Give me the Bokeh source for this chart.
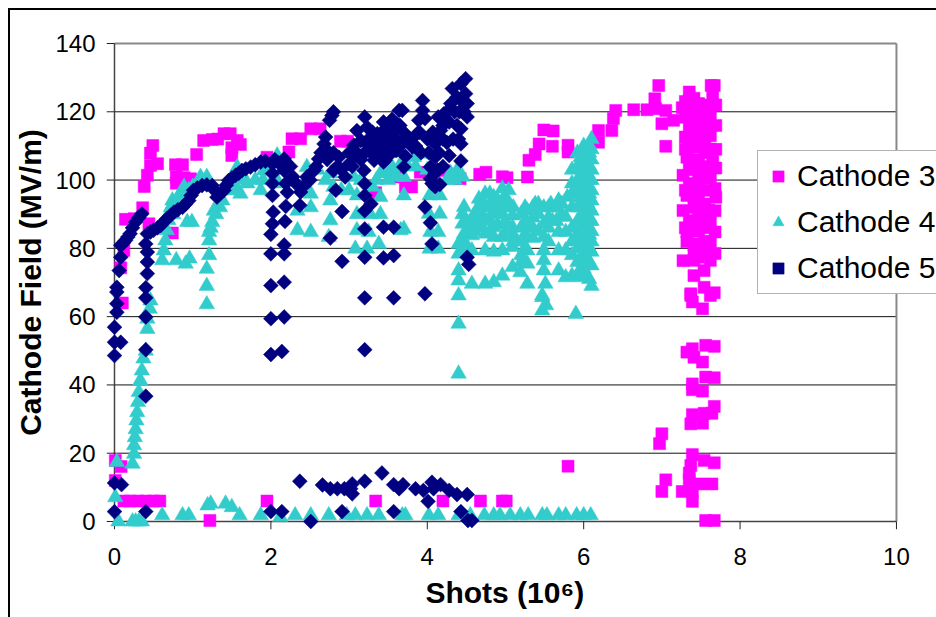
from bokeh.plotting import figure
from bokeh.models import Legend, LegendItem, FixedTicker, ColumnDataSource
from bokeh.embed import file_html
from bokeh.resources import INLINE

series_names = ["Cathode 3", "Cathode 4", "Cathode 5"]
x_ticks = [0, 2, 4, 6, 8, 10]
y_ticks = [0, 20, 40, 60, 80, 100, 120, 140]

cathode3 = [
 (0.49,110.1),(0.46,107.9),(0.46,104.3),(0.55,104.8),(0.42,101.4),(0.38,98.1),(0.36,91.9),(0.14,88.5),(0.25,88.7),(0.44,87.2),(0.74,84.5),(0.12,79.4),(0.08,74.3),
 (1.05,107.5),(0.78,104.5),(0.87,104.5),(0.79,100.9),(0.79,99.1),(0.89,100.7),(0.97,100.4),(1.05,100),(1.14,111.6),(1.25,111.9),(1.32,112),(1.40,113.6),(1.48,113.6),(1.57,111.6),(1.61,110.4),(1.50,107.2),(1.50,109.5),
 (1.95,106.7),(2.23,108.2),(2.27,112.1),(2.38,112.1),(2.51,115),(2.63,115),(2.89,111.4),(2.98,111.4),(3.34,96.3),(3.61,100.9),
 (3.72,98),(3.8,98),(3.91,102.3),(4.21,102.8),(4.42,100.4),(4.67,101.7),(4.75,102.3),(4.96,101),(5.02,100.7),(5.28,100.9),(5.30,105.8),(5.38,107.5),(5.43,110.6),(5.49,114.7),(5.61,114.4),(5.60,109.9),(5.80,110.2),(5.80,108.2),
 (6.19,114.5),(6.19,111.1),(6.36,114.5),(6.38,118),(6.41,120.4),(6.64,120.6),(6.81,120.6),(6.92,120.9),(6.91,123.8),(6.96,127.7),(7.0,116.5),(7.05,120.4),(7.15,117.5),(7.05,109.9),(7.26,121.2),
 (7.35,125.8),(7.35,123.3),(7.35,120.9),(7.3,118.4),(7.35,115.5),(7.3,112.6),(7.35,109.7),(7.32,106.7),(7.35,104.3),(7.27,101.4),(7.35,98.4),(7.32,95.5),(7.27,91.1),(7.35,88.1),(7.32,84.8),(7.32,81.9),(7.27,76.4),
 (7.47,122.4),(7.47,119.4),(7.47,116),(7.47,112.6),(7.47,109.7),(7.47,105.8),(7.47,101.9),(7.47,98.9),(7.47,96),(7.47,92.1),(7.47,89.2),(7.47,85.2),(7.47,81.3),(7.47,77.4),(7.54,73.5),
 (7.63,127.7),(7.67,127.7),(7.65,125),(7.69,122),(7.62,119),(7.69,116),(7.62,113),(7.69,109),(7.62,109),(7.65,105.5),(7.69,103.5),(7.62,100.5),(7.68,97.5),(7.69,95),(7.6,91.2),(7.68,91),(7.62,87.8),(7.68,84.8),(7.62,81.9),(7.68,78.5),(7.62,76.5),
 (7.41,124),(7.41,120),(7.41,117),(7.41,113),(7.41,110),(7.41,106),(7.41,103),(7.41,99),(7.41,95),(7.41,92),(7.41,88),(7.41,85),(7.41,81),(7.41,78),(7.41,72),
 (7.55,122),(7.55,119),(7.55,116),(7.55,112),(7.55,108),(7.55,104),(7.55,101),(7.55,97),(7.55,93),(7.55,90),(7.55,86),(7.55,82),(7.55,79),(7.3,123),(7.3,109),(7.3,97),(7.3,86),
 (7.41,76.5),(7.37,66.7),(7.54,68.6),(7.67,67),(7.39,64.3),(7.52,62.3),(7.37,66.2),(7.62,66.2),
 (7.32,49.6),(7.39,50.6),(7.41,48.1),(7.52,46.7),(7.56,51.6),(7.67,51.3),(7.56,42.3),(7.67,42.1),(7.39,40.3),(7.39,38.6),(7.52,38.2),(7.67,33.7),(7.64,31.7),(7.54,31.7),(7.39,31.3),(7.37,28.6),(7.52,28.8),
 (7.0,25.7),(6.97,22.8),(7.39,19.6),(7.37,16.4),(7.35,14.2),(7.35,12.2),(7.54,17.9),(7.67,17.2),(7.05,12.2),(7.0,8.8),(7.26,8.8),(7.39,8.8),(7.49,11),(7.64,11),(7.39,5.9),(7.56,0.3),(7.67,0.3),
 (5.80,16.2),(4.2,6),(4.68,6),(4.96,6),(5.01,6),
 (0.01,17.9),(0.085,16.1),(0.01,12),(0.12,6),(0.2,6),(0.3,6),(0.4,6),(0.5,6),(0.58,6),(1.22,0.3),(1.95,6),(3.34,6),(0.1,64),
]

cathode4 = [
 (0.23,16.9),(0.25,19.8),(0.25,22.3),(0.26,24.7),(0.27,27),(0.28,29.6),(0.29,32),(0.30,35),(0.31,37.9),(0.33,41.3),(0.35,44.2),(0.37,47.7),(0.40,50),(0.42,56.4),(0.42,59.4),(0.45,62.3),(0.46,64.7),
 (0.61,76.5),(0.63,79.4),(0.65,82.3),(0.67,85.3),(0.69,88.2),(0.72,92),(0.74,94),(0.80,94.5),(0.84,96),(0.89,98),(0.79,76.5),(0.91,75.5),(0.96,77),(0.93,87.7),(0.99,87.7),
 (0.69,90),(0.75,90),(0.78,92.5),(0.85,93),(0.95,97),(1.0,98),
 (1.18,74),(1.21,78),(1.21,82.3),(1.21,84.8),(1.25,87.7),(1.27,91),(1.35,92),(1.44,97),(1.61,96),(1.10,100.9),(1.18,100.9),(1.18,69),(1.18,63.6),(1.57,103.8),(1.65,100),(1.87,97),(1.91,102.8),(2.08,107.2),(1.99,102.8),
 (1.23,86),(1.3,90),(1.38,94),(1.5,97),(1.55,98),(1.7,99),(1.8,100),(1.9,100),(2.05,101),(2.1,99),(2.15,103),
 (2.34,91),(2.51,92),(2.51,96),(2.34,85.3),(2.51,84.8),(2.46,103.8),(2.76,94),(2.76,88.2),(2.74,83.3),(3.10,95.5),(3.10,90),(3.10,85.3),(3.08,79.9),(3.23,79.9),(3.38,81.3),(3.27,90),(3.40,90),(3.40,95),(3.25,84.8),(3.66,85.3),(2.76,101.9),(3.06,100.9),(3.40,101.9),(3.57,102.8),
 (2.3,100),(2.6,103),(2.7,100),(2.8,98),(2.9,97),(3.0,97),(3.15,100),(3.3,98),(3.35,100),(3.5,100),(3.6,101),(3.75,104),(3.85,104),(4.0,103),(4.3,102),(4.25,100),(4.35,100),(4.45,101),
 (3.70,100.9),(3.70,95.5),(3.70,85.7),(3.44,102.8),(3.55,103.8),(3.66,104.8),(3.83,106.7),(3.93,107.7),(4.03,95.5),(4.16,95.5),(4.02,90.1),(4.16,90.1),(4.04,84.8),(4.14,84.8),(4.03,79.9),(4.14,79.9),(4.30,100.9),(4.38,102.8),
 (4.40,81.3),(4.40,78.4),(4.40,73.5),(4.40,70.6),(4.40,66.2),(4.40,57.9),(4.40,43.3),
 (4.47,92.1),(4.45,87.2),(4.47,84.3),(4.57,83.8),(4.57,79.4),(4.57,69.6),(4.74,79.4),(4.74,69.6),(4.85,79),(4.85,70.1),(4.96,79.4),(4.96,72),(4.66,94.5),(4.66,92.1),(4.66,89.2),(4.74,96),(4.74,92.1),(4.74,88.2),(4.74,84.3),(4.85,95),(4.85,91.1),(4.85,86.2),(4.85,83.3),(4.96,97.5),(4.96,94),(4.96,90.1),(4.96,83.3),(5.04,97),(5.04,93),(5.09,89.6),(5.09,86.2),(5.09,80.4),(5.09,74.5),(5.19,73),(5.28,91),(5.28,87.2),(5.28,83.3),(5.28,79.4),(5.28,75.5),(5.28,69.6),(5.38,93),(5.49,92),(5.49,87.2),(5.49,83.3),(5.49,79.4),(5.49,76.5),(5.49,73.5),(5.51,69.6),(5.47,65.7),(5.47,61.8),(5.52,63.3),(5.47,66.2),(5.90,60.8),
 (4.45,90),(4.45,82),(4.45,79),(4.5,88),(4.5,85),(4.5,81),(4.6,88),(4.6,85),(4.6,90),(4.6,87),(4.7,94),(4.7,90),(4.7,86),(4.8,92),(4.8,88),(4.8,96),(4.8,85),(4.9,90),(4.9,87),(4.9,94),(4.9,92),(5.0,95),(5.0,92),(5.0,88),(5.0,85),(5.1,92),(5.1,84),(5.1,82),(5.2,90),(5.2,86),(5.2,82),(5.2,78),(5.2,76),(5.25,92),(5.25,88),(5.25,84),(5.25,80),(5.35,92),(5.35,89),(5.35,86),(5.35,83),(5.42,93),(5.42,90),(5.42,85),(5.55,92),(5.55,89),(5.55,86),(5.55,82),(5.6,92),(5.6,88),(5.65,92),(5.65,88),(5.72,93),(5.72,90),
 (5.85,92),(5.85,96),(5.85,99),(5.85,103),(5.85,86),(5.85,82),(5.85,78),(5.85,72),
 (5.92,108),(5.92,104),(5.92,100),(5.92,96),(5.92,92),(5.92,88),(5.92,84),(5.92,80),(5.92,76),(5.92,72),
 (6.0,110),(6.0,107),(6.0,102),(6.0,98),(6.0,94),(6.0,90),(6.0,86),(6.0,82),(6.0,78),(6.0,74),
 (6.07,110),(6.07,108),(6.07,104),(6.07,100),(6.07,96),(6.07,92),(6.07,88),(6.07,84),(6.07,80),(6.07,76),(6.07,71),
 (5.58,93),(5.68,94),(5.79,95),(5.77,89.2),(5.68,84.8),(5.77,84.8),(5.68,79.4),(5.77,79.4),(5.68,73.5),(5.77,71.5),
 (5.96,106.7),(5.96,103.8),(5.96,100.9),(5.96,98),(5.96,95),(5.96,92),(5.96,89),(5.96,86),(5.96,83),(5.96,80),(5.96,77),(5.96,74),(5.96,71.5),
 (6.04,104.5),(6.04,101),(6.04,97),(6.04,93.5),(6.04,89.5),(6.04,85.5),(6.04,81),(6.04,77),(6.04,72),
 (6.1,112),(6.1,109),(6.1,106),(6.1,103),(6.1,100),(6.1,97),(6.1,94),(6.1,91),(6.1,88),(6.1,85),(6.1,82),(6.1,79),(6.1,75),(6.1,69),
 (0.61,1.8),(0.87,1.8),(0.95,1.8),(1.19,4.7),(1.23,5.2),(1.42,5.2),(1.50,4.2),(1.60,1.8),(1.87,1.8),(2.12,1.3),(2.31,1.8),(2.51,1.8),(2.74,1.8),(2.97,1.8),(3.08,1.8),(3.23,1.8),(3.38,1.8),(3.68,1.8),
 (0.01,7.1),(0.03,17.4),(0.05,0),(0.23,0),(0.27,0),(0.31,0),(0.35,0),
 (3.72,1.8),(4.02,1.8),(4.14,1.8),(4.40,1.8),(4.55,1.8),(4.73,1.8),(4.85,1.8),(4.93,1.8),(5.06,1.8),(5.19,1.8),(5.29,1.8),(5.47,1.8),(5.53,1.8),(5.68,1.8),(5.77,1.8),(5.91,1.8),(6.0,1.8),(6.09,1.8),
]

cathode5 = [
 (0.08,80.9),(0.14,82.3),(0.2,84.3),(0.27,87.7),(0.35,90.1),(0.42,84.3),(0.50,85.3),(0.59,86.7),(0.67,88.7),(0.76,90.6),(0.87,92),(0.95,94),(1.01,97),(1.12,98.4),(1.25,98.4),(1.31,95),(1.40,97),(1.46,99.9),(1.55,101.4),(1.63,102.8),(1.74,103.8),(1.87,105.3),
 (0.46,84.8),(0.55,86),(0.63,87.7),(0.72,89.7),(0.81,91.3),(0.91,93),(0.98,95.5),(1.06,97.7),(1.18,98.6),(1.28,97),(1.35,96),(1.43,98.5),(1.5,100.6),(1.59,102),(1.68,103.3),(1.8,104.5),(1.93,105.5),(0.11,81.5),(0.17,83.3),(0.23,86),(0.31,89),
 (2.02,104.8),(2.02,101.9),(2.02,99),(2.02,95.5),(2.03,90.6),(2.02,87.2),(2,84.1),(2,78.4),(2.17,106.2),(2.17,102.8),(2.19,99),(2.21,96.4),(2.19,92.3),(2.18,87.9),(2.17,81),(2.17,78.4),
 (2.37,92.6),(2.38,96.5),(2.46,100.9),(2.55,102.8),(2.61,106.2),(2.7,112.6),(2.78,118.9),(2.68,110.6),(2.87,106.7),(2.83,97),(2.95,100.9),(2.91,90.8),(2.76,83),(2.91,76.2),(3.06,106.7),(3.15,111.6),(3.20,118.5),(3.19,102.8),(3.2,98.9),(3.2,95.5),(3.28,93),(3.2,91),(3.2,85.7),(3.2,77.4),(3.44,86.2),(3.57,86.2),(3.44,77.2),(3.57,77.9),(3.44,105.3),(3.36,113.6),(3.44,114.5),(3.53,116.5),(3.64,120.4),(3.32,109.7),(3.59,108.7),
 (2.05,106),(2.1,105),(2.2,105),(2.25,104),(2.28,101),(2.32,99),(2.41,98),(2.5,100),(2.58,104),(2.64,108),(2.72,106),(2.75,108),(2.8,108),(2.85,104),(2.9,103),(3.0,108),(3.04,104),(3.1,108),(3.15,106),(3.2,108),(3.25,112),(3.3,114),(3.28,108),(3.35,111),(3.4,112),(3.4,108),(3.48,113),(3.5,110),(3.5,107),(3.55,110),(3.6,112),(3.65,116),(3.7,114),(3.72,107),(3.78,112),(3.85,110),(3.9,114),(3.92,108),(3.97,118),(4.0,112),(4.02,108),(4.07,114),(4.12,113),(4.15,108),(4.2,116),(4.25,120),(4.28,117),(4.35,120),(4.38,116),(4.41,120),(4.45,123),(4.47,120),(4.4,112),(4.2,112),(4.25,111),(4.33,112),(4.06,99),(4.1,98),(4.1,102),(4.13,103),(4.2,104),(2.75,117.5),(2.8,120),
 (0.08,77.4),(0.06,73.5),(0.03,68.6),(0.03,67.2),(0.03,63.8),(0.03,61.3),(0,56.9),(0,52.5),(0.08,52.5),(0,48.6),(0.40,68.5),(0.40,65.5),(0.40,59.9),(0.40,50.3),(0.40,36.7),(0.42,78.9),(0.42,76),(0.42,72.6),(0.4,81.3),
 (2.0,69.1),(2.17,70.1),(2,59.4),(2.17,59.9),(2,48.9),(2.14,49.8),(3.2,65.5),(3.57,65.5),(3.2,50.3),
 (2.37,11.8),(2.66,10.7),(2.76,9.6),(2.85,9.6),(2.94,9.6),(3.02,9.6),(3.04,11),(3.04,8.1),(3.2,11.8),(3.42,14.2),(3.57,10.8),(3.64,9.6),(0,11.3),(0.09,10.8),(0,2.9),(0.4,2.9),(2,2.9),(2.14,2.9),(2.51,0),(2.91,2.9),(3.57,2.9),
 (3.69,10.8),(3.85,9.6),(3.95,9.1),(4.06,11.5),(4.08,9.6),(4.17,10.8),(4.28,9.1),(4.38,7.9),(4.51,7.9),(4.01,5.9),(4.43,2.9),(4.52,0.3),(4.57,0.3),
 (3.97,66.7),(3.97,92.1),(4.04,87.5),(4.06,81.3),(4.51,77.4),(4.53,75.3),(4.16,98.7),(4.04,100.4),(4.04,103.8),(3.70,103.8),(4.28,107.2),(4.43,105.6),(4.43,110.6),(4.43,115),(4.49,129.7),(4.43,128.2),(4.32,126.8),(4.49,125.3),(4.38,124.3),(4.51,122.4),(4.30,122.4),(4.21,119.4),(4.51,118.5),(4.14,118.5),(4.17,114.5),(4.10,110.6),(4.10,106.7),(3.94,123.3),(3.94,120.4),(3.89,117.5),(3.87,113.6),(3.81,109.7),(3.68,120.4),(3.61,116.5),(3.55,117.8),(3.44,117),(3.44,113.6),(3.55,114),(3.61,108.7),(3.46,105.8),(3.68,110.6),
 (3.06,110.2),(3.23,110.6),(3.36,107.7),(3.1,114.5),(3.23,115.5),(2.8,102.8),(3.0,104.8),(3.32,105.8),(3.53,111.6),(3.57,114.5),(3.44,110.6),
]

x_start, x_end = -0.1023, 10.512
y_start, y_end = -2.343, 142.343

p = figure(width=936, height=617, frame_width=830, frame_height=494,
           min_border_left=106, min_border_right=0, min_border_top=35, min_border_bottom=88,
           x_range=(x_start, x_end), y_range=(y_start, y_end), output_backend="svg", toolbar_location=None,
           x_axis_label="Shots (10⁶)\u00a0\u00a0\u00a0\u00a0", y_axis_label="Cathode Field (MV/m)")
p.border_fill_color = None
p.background_fill_color = None
p.styles = {"background": "linear-gradient(black,black) 8px 8px / 2px 609px no-repeat, "
                          "linear-gradient(black,black) 8px 8px / 928px 2px no-repeat, white"}

def src(pairs):
    return ColumnDataSource(dict(x=[a for a, _ in pairs], y=[b for _, b in pairs]))

x0, x1 = x_ticks[0], x_ticks[-1]
y0, y1 = y_ticks[0], y_ticks[-1]
inner = y_ticks[1:-1]
# gridlines, frame and axis rules, tick marks: inside an enlarged frame so that markers at 0 are not clipped
p.segment(x0=[x0] * len(inner), x1=[x1] * len(inner), y0=inner, y1=inner, line_color="#111111", line_width=1)
p.segment(x0=[x0, x1], x1=[x1, x1], y0=[y1, y0], y1=[y1, y1], line_color="#888888", line_width=2)
p.segment(x0=[x0, x0], x1=[x0, x1], y0=[y0, y0], y1=[y1, y0], line_color="#444444", line_width=1.5)
p.segment(x0=x_ticks, x1=x_ticks, y0=[y0] * len(x_ticks), y1=[y_start] * len(x_ticks), line_color="#222222", line_width=1)
p.segment(x0=[x_start] * len(y_ticks), x1=[x0] * len(y_ticks), y0=y_ticks, y1=y_ticks, line_color="#222222", line_width=1)

r3 = p.scatter("x", "y", source=src(cathode3), marker="square", size=12, fill_color="#ff00ff", line_color="#ff00ff", line_width=0.5)
r4 = p.scatter("x", "y", source=src(cathode4), marker="triangle", size=15.5, fill_color="#33cccc", line_color="#33cccc", line_width=0.5)
r5 = p.scatter("x", "y", source=src(cathode5), marker="square", angle=0.7854, size=10.5, fill_color="#000080", line_color="#000080", line_width=0.5)

p.grid.grid_line_color = None
p.xaxis.ticker = FixedTicker(ticks=x_ticks)
p.yaxis.ticker = FixedTicker(ticks=y_ticks)
for ax in (p.xaxis[0], p.yaxis[0]):
    ax.axis_line_color = None
    ax.major_tick_line_color = None
    ax.major_tick_in = 0
    ax.major_tick_out = 0
    ax.minor_tick_line_color = None
    ax.major_label_text_font = "Liberation Sans"
    ax.major_label_text_font_size = "24px"
    ax.major_label_text_color = "black"
    ax.axis_label_text_font = "Liberation Sans"
    ax.axis_label_text_font_style = "bold"
    ax.axis_label_text_font_size = "30px"
    ax.axis_label_text_color = "black"
p.xaxis.major_label_standoff = 18
p.yaxis.major_label_standoff = 11
p.xaxis.axis_label_standoff = 8
p.yaxis.axis_label_standoff = 5
p.outline_line_color = None

legend = Legend(items=[LegendItem(label=n, renderers=[r]) for n, r in zip(series_names, (r3, r4, r5))],
                location=(651, 235), margin=0, padding=6, spacing=8, label_height=38, glyph_width=28,
                glyph_height=28, label_standoff=5, label_text_font="Liberation Sans",
                label_text_font_size="30px", label_text_color="black",
                border_line_color="#666666", border_line_width=1.5, background_fill_color="white", background_fill_alpha=1)
p.add_layout(legend, "center")

open("out.html", "w").write(file_html(p, INLINE))
